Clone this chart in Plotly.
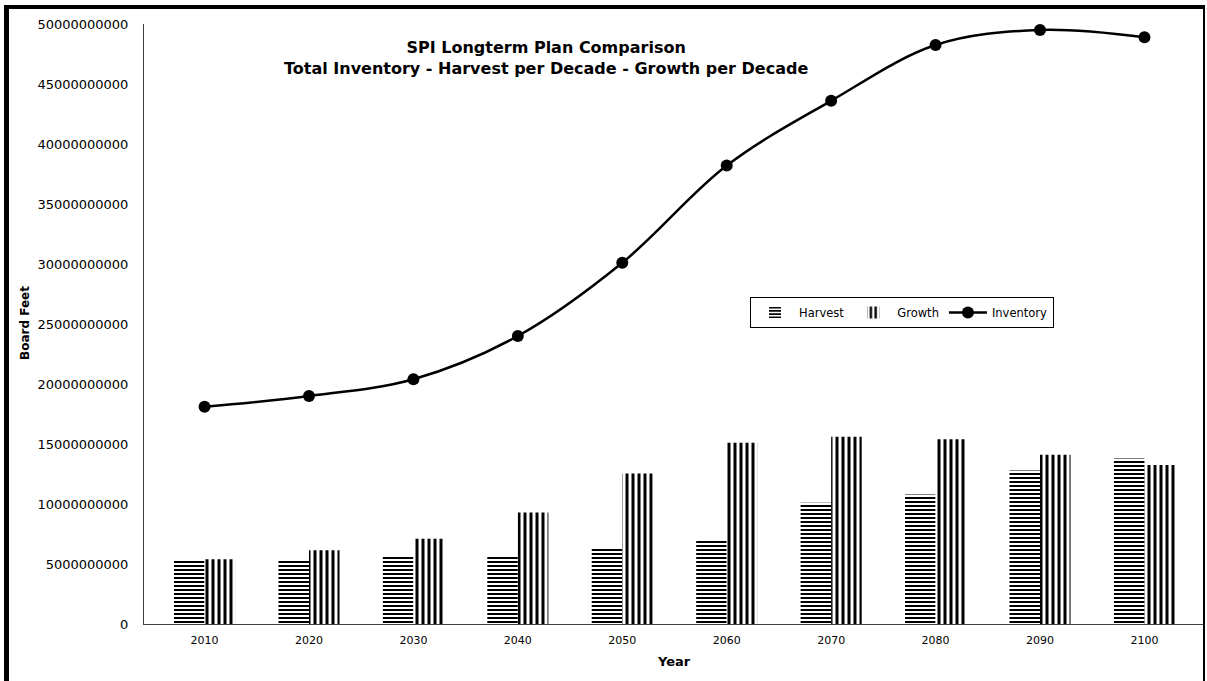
import plotly.graph_objects as go

years = ["2010", "2020", "2030", "2040", "2050", "2060", "2070", "2080", "2090", "2100"]
harvest = [5.25e9, 5.25e9, 5.6e9, 5.75e9, 6.4e9, 7.0e9, 10.1e9, 10.8e9, 12.8e9, 13.8e9]
growth = [5.4e9, 6.15e9, 7.1e9, 9.3e9, 12.55e9, 15.1e9, 15.6e9, 15.4e9, 14.1e9, 13.25e9]
inventory = [18.1e9, 19.0e9, 20.4e9, 24.0e9, 30.1e9, 38.2e9, 43.6e9, 48.25e9, 49.5e9, 48.9e9]

W, H = 1207, 681
L, R, T, B = 144, 2, 24, 57
PW, PH = W - L - R, H - T - B

def px(x):
    return (x - L) / PW

def py(y):
    return (H - B - y) / PH

FONT = "DejaVu Sans, Verdana, sans-serif"

fig = go.Figure()
fig.add_trace(go.Bar(
    x=years, y=harvest, name="Harvest",
    marker=dict(color="white", line=dict(color="black", width=0),
                pattern=dict(shape="-", fgcolor="black", bgcolor="white", fgopacity=1,
                             size=4, solidity=0.5)),
))
fig.add_trace(go.Bar(
    x=years, y=growth, name="Growth",
    marker=dict(color="white", line=dict(color="black", width=0),
                pattern=dict(shape="|", fgcolor="black", bgcolor="white", fgopacity=1,
                             size=6, solidity=0.5)),
))
fig.add_trace(go.Scatter(
    x=years, y=inventory, name="Inventory", mode="lines+markers",
    line=dict(color="black", width=2.5, shape="spline", smoothing=1),
    marker=dict(color="black", size=12),
))

fig.update_layout(
    width=W, height=H,
    margin=dict(l=L, r=R, t=T, b=B, autoexpand=False),
    paper_bgcolor="white", plot_bgcolor="white",
    barmode="group", bargap=0.415, bargroupgap=0,
    font=dict(family=FONT, size=13, color="black"),
    showlegend=True,
    legend=dict(
        orientation="h", x=px(750), y=py(297), xanchor="left", yanchor="top",
        bordercolor="black", borderwidth=1, bgcolor="white",
        font=dict(family=FONT, size=11.5, color="black"),
        itemwidth=38, tracegroupgap=0,
    ),
    xaxis=dict(
        type="category", showgrid=False, showline=True, linecolor="#404040", linewidth=1,
        ticks="", tickfont=dict(family=FONT, size=11), ticklabelstandoff=6, automargin=False,
    ),
    yaxis=dict(
        range=[0, 50e9], dtick=5e9, tickformat="d", showgrid=False, zeroline=False,
        showline=True, linecolor="#404040", linewidth=1, ticks="",
        tickfont=dict(family=FONT, size=13), ticklabelstandoff=12, automargin=False,
    ),
    annotations=[
        dict(text="<b>SPI Longterm Plan Comparison<br>Total Inventory - Harvest per Decade - Growth per Decade</b>",
             x=px(546), y=py(58), xref="paper", yref="paper", xanchor="center", yanchor="middle",
             showarrow=False, font=dict(family=FONT, size=16, color="black")),
        dict(text="<b>Year</b>", x=px(674), y=py(661), xref="paper", yref="paper",
             xanchor="center", yanchor="middle", showarrow=False,
             font=dict(family=FONT, size=13, color="black")),
        dict(text="<b>Board Feet</b>", x=px(25), y=py(323), xref="paper", yref="paper",
             xanchor="center", yanchor="middle", showarrow=False, textangle=-90,
             font=dict(family=FONT, size=12, color="black")),
    ],
    shapes=[
        dict(type="rect", xref="paper", yref="paper", x0=px(5), x1=px(1205), y0=py(5), y1=py(9),
             fillcolor="black", line=dict(width=0)),
        dict(type="rect", xref="paper", yref="paper", x0=px(4), x1=px(9), y0=py(5), y1=py(681),
             fillcolor="black", line=dict(width=0)),
        dict(type="rect", xref="paper", yref="paper", x0=px(1203), x1=px(1205), y0=py(5), y1=py(681),
             fillcolor="black", line=dict(width=0)),
    ],
)

fig.write_html("out.html")
